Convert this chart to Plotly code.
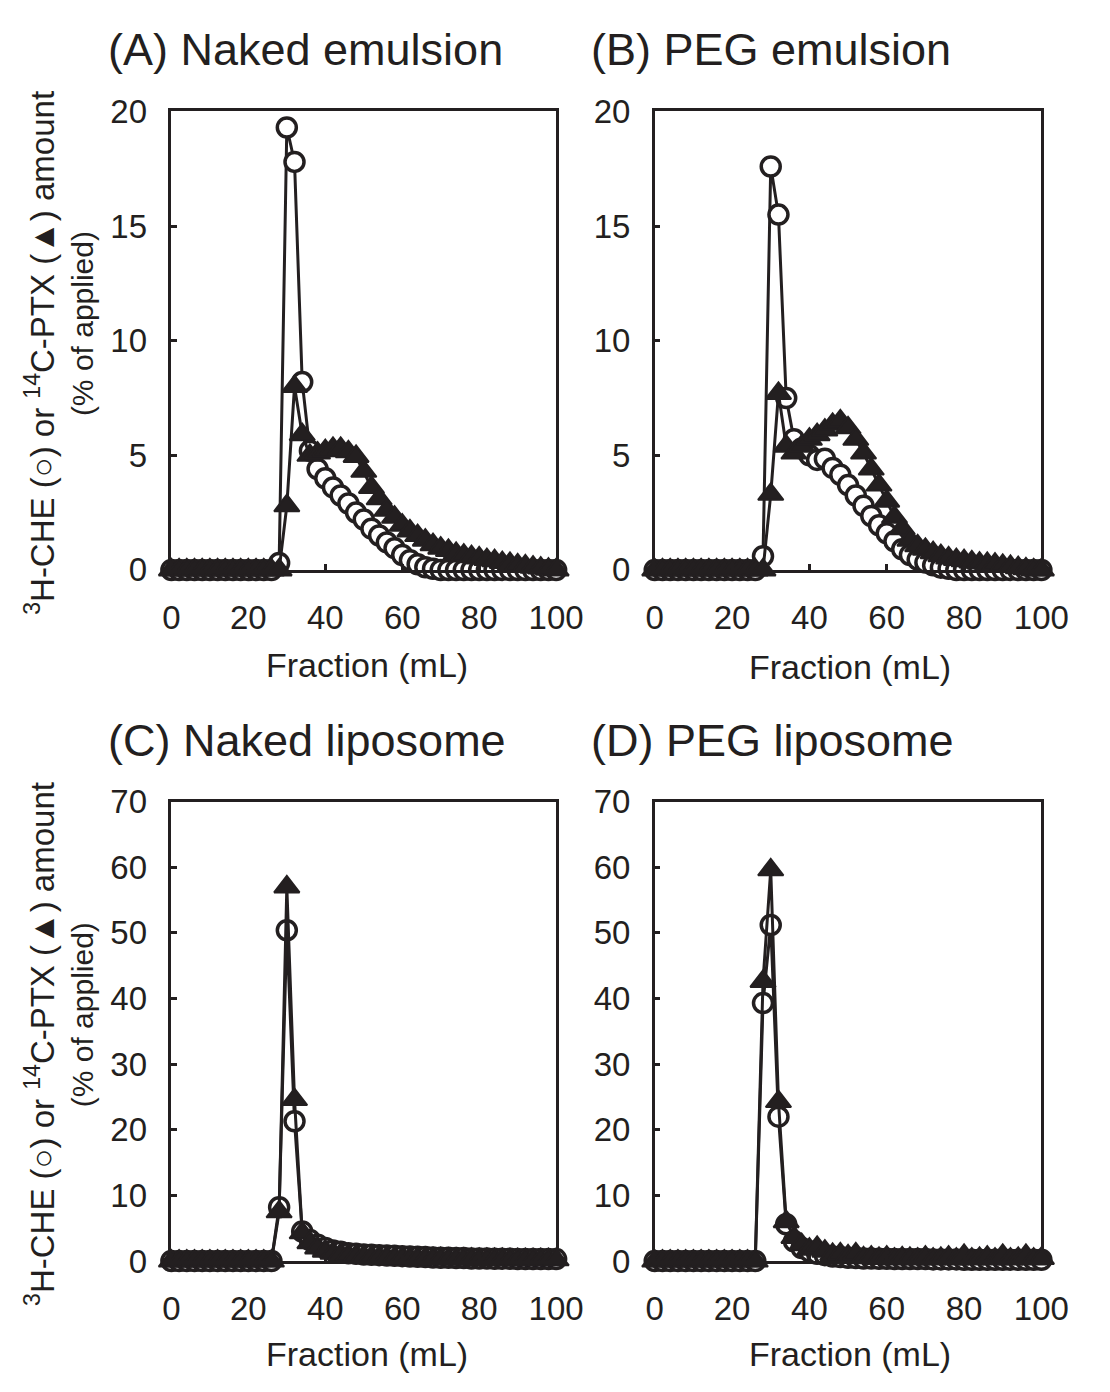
import plotly.graph_objects as go

# ---------------- data ----------------
fraction_ml = [0, 2, 4, 6, 8, 10, 12, 14, 16, 18, 20, 22, 24, 26, 28, 30, 32, 34, 36, 38,
               40, 42, 44, 46, 48, 50, 52, 54, 56, 58, 60, 62, 64, 66, 68, 70, 72, 74, 76, 78,
               80, 82, 84, 86, 88, 90, 92, 94, 96, 98, 100]

# (A) Naked emulsion
a_che = [0] * 14 + [0.3, 19.3, 17.8, 8.2, 5.2, 4.4, 4.0, 3.6, 3.25, 2.9,
                    2.5, 2.2, 1.8, 1.5, 1.2, 0.95, 0.65, 0.42, 0.25, 0.12,
                    0.05, 0, 0, 0, 0, 0, 0, 0, 0, 0, 0, 0, 0, 0, 0, 0, 0]
a_ptx = [0] * 15 + [2.8, 8.0, 5.9, 5.0, 5.1, 5.2, 5.3, 5.3, 5.15, 4.95,
                    4.3, 3.6, 3.1, 2.6, 2.3, 1.95, 1.7, 1.5, 1.3, 1.1,
                    0.95, 0.85, 0.72, 0.65, 0.58, 0.52, 0.45, 0.4, 0.32, 0.28,
                    0.22, 0.18, 0.12, 0.08, 0.03, 0]

# (B) PEG emulsion
b_che = [0] * 14 + [0.6, 17.6, 15.5, 7.5, 5.7, 5.3, 5.0, 4.8, 4.85, 4.45,
                    4.15, 3.7, 3.25, 2.8, 2.35, 1.95, 1.6, 1.25, 0.9, 0.65,
                    0.45, 0.32, 0.2, 0.1, 0.05, 0, 0, 0, 0, 0, 0, 0, 0, 0, 0, 0, 0]
b_ptx = [0] * 15 + [3.3, 7.7, 5.4, 5.1, 5.4, 5.7, 5.9, 6.1, 6.35, 6.5,
                    6.2, 5.7, 5.1, 4.4, 3.7, 3.0, 2.3, 1.8, 1.3, 1.05,
                    0.9, 0.75, 0.62, 0.52, 0.45, 0.4, 0.35, 0.3, 0.28, 0.25,
                    0.2, 0.15, 0.1, 0.05, 0, 0]

# (C) Naked liposome
c_che = [0] * 14 + [8.2, 50.4, 21.3, 4.5, 3.2, 2.5, 2.0, 1.6, 1.4, 1.2,
                    1.1, 1.0, 0.95, 0.9, 0.85, 0.8, 0.75, 0.7, 0.65, 0.6,
                    0.55, 0.5, 0.5, 0.45, 0.45, 0.4, 0.4, 0.4, 0.35, 0.35,
                    0.35, 0.3, 0.3, 0.3, 0.3, 0.3, 0.3]
c_ptx = [0] * 14 + [7.5, 57.0, 24.6, 4.3, 2.8, 2.0, 1.5, 1.2, 1.0, 0.9,
                    0.8, 0.7, 0.65, 0.6, 0.55, 0.5, 0.5, 0.45, 0.4, 0.4,
                    0.35, 0.35, 0.3, 0.3, 0.3, 0.3, 0.25, 0.25, 0.25, 0.25,
                    0.2, 0.2, 0.2, 0.2, 0.2, 0.2, 0.2]

# (D) PEG liposome
d_che = [0] * 14 + [39.3, 51.2, 22.0, 5.6, 3.0, 2.0, 1.5, 1.1, 0.9, 0.7,
                    0.6, 0.5, 0.45, 0.4, 0.4, 0.35, 0.35, 0.3, 0.3, 0.3,
                    0.3, 0.3, 0.25, 0.25, 0.25, 0.25, 0.2, 0.2, 0.2, 0.2,
                    0.2, 0.2, 0.2, 0.2, 0.2, 0.2, 0.2]
d_ptx = [0] * 14 + [42.6, 59.6, 24.3, 6.0, 3.6, 2.5, 1.8, 2.1, 1.5, 1.0,
                    1.1, 0.8, 1.1, 0.5, 0.6, 0.4, 0.6, 0.3, 0.5, 0.4,
                    0.3, 0.6, 0.3, 0.4, 0.6, 0.3, 0.85, 0.3, 0.4, 0.6,
                    0.3, 0.85, 0.3, 0.4, 0.85, 0.3, 0.4]

panel_titles = ["(A) Naked emulsion", "(B) PEG emulsion",
                "(C) Naked liposome", "(D) PEG liposome"]
x_ticks = [0, 20, 40, 60, 80, 100]
y_ticks_top = [0, 5, 10, 15, 20]
y_ticks_bottom = [0, 10, 20, 30, 40, 50, 60, 70]

# ---------------- layout geometry ----------------
W, H = 1110, 1392
FONT = "Liberation Sans, Arial, Helvetica, sans-serif"
INK = "#231f20"


def px_x(v):
    return v / W


def px_y(v):
    return 1 - v / H


panels = [
    (a_che, a_ptx, (168, 566), (96, 567), [0, 20], y_ticks_top),
    (b_che, b_ptx, (668, 1068), (96, 567), [0, 20], y_ticks_top),
    (c_che, c_ptx, (168, 566), (805, 1277), [0, 70], y_ticks_bottom),
    (d_che, d_ptx, (668, 1068), (805, 1277), [0, 70], y_ticks_bottom),
]

fig = go.Figure()
layout_axes = {}

for i, (che, ptx, xd, yd, yr, yt) in enumerate(panels):
    n = "" if i == 0 else str(i + 1)
    xa, ya = "x" + n, "y" + n
    fig.add_trace(go.Scatter(
        x=fraction_ml, y=che, xaxis=xa, yaxis=ya, mode="lines+markers",
        line=dict(color=INK, width=3),
        marker=dict(symbol="circle", size=19, color="white",
                    line=dict(color=INK, width=3.5)),
        cliponaxis=False, showlegend=False))
    fig.add_trace(go.Scatter(
        x=fraction_ml, y=ptx, xaxis=xa, yaxis=ya, mode="lines+markers",
        line=dict(color=INK, width=3),
        marker=dict(symbol="triangle-up", size=22, color=INK,
                    line=dict(color=INK, width=2)),
        cliponaxis=False, showlegend=False))

    layout_axes["xaxis" + n] = dict(
        domain=[px_x(xd[0]), px_x(xd[1])], range=[0, 100], anchor=ya,
        tickvals=x_ticks, ticks="inside", ticklen=6, tickwidth=2.5,
        tickcolor=INK, showline=True, linecolor=INK, linewidth=2.5,
        mirror=True, showgrid=False, zeroline=False,
        tickfont=dict(family=FONT, size=33, color=INK),
        ticklabelstandoff=17)
    layout_axes["yaxis" + n] = dict(
        domain=[px_y(yd[1]), px_y(yd[0])], range=yr, anchor=xa,
        tickvals=yt, ticks="inside", ticklen=6, tickwidth=2.5,
        tickcolor=INK, showline=True, linecolor=INK, linewidth=2.5,
        mirror=True, showgrid=False, zeroline=False,
        tickfont=dict(family=FONT, size=33, color=INK),
        ticklabelstandoff=15)

annotations = []
title_pos = [(100, 32), (600, 32), (100, 742), (600, 742)]
for t, (tx, ty) in zip(panel_titles, title_pos):
    annotations.append(dict(text=t, xref="paper", yref="paper", x=px_x(tx), y=px_y(ty),
                            xanchor="left", yanchor="middle", showarrow=False,
                            font=dict(family=FONT, size=45, color=INK)))

for cx, cy in [(370, 665), (870, 667), (370, 1372), (870, 1372)]:
    annotations.append(dict(text="Fraction (mL)", xref="paper", yref="paper",
                            x=px_x(cx), y=px_y(cy), xanchor="center", yanchor="middle",
                            showarrow=False, font=dict(family=FONT, size=34, color=INK)))

ylab1 = "<sup>3</sup>H-CHE (○) or <sup>14</sup>C-PTX (▲) amount"
ylab2 = "(% of applied)"
for cy in [344, 1054]:
    annotations.append(dict(text=ylab1, xref="paper", yref="paper", x=px_x(32), y=px_y(cy),
                            xanchor="center", yanchor="middle", textangle=-90, showarrow=False,
                            font=dict(family=FONT, size=33, color=INK)))
    annotations.append(dict(text=ylab2, xref="paper", yref="paper", x=px_x(76), y=px_y(cy - 30),
                            xanchor="center", yanchor="middle", textangle=-90, showarrow=False,
                            font=dict(family=FONT, size=30, color=INK)))

fig.update_layout(
    width=W, height=H, margin=dict(l=0, r=0, t=0, b=0),
    paper_bgcolor="white", plot_bgcolor="white",
    annotations=annotations, **layout_axes)

fig.write_html("out.html")
